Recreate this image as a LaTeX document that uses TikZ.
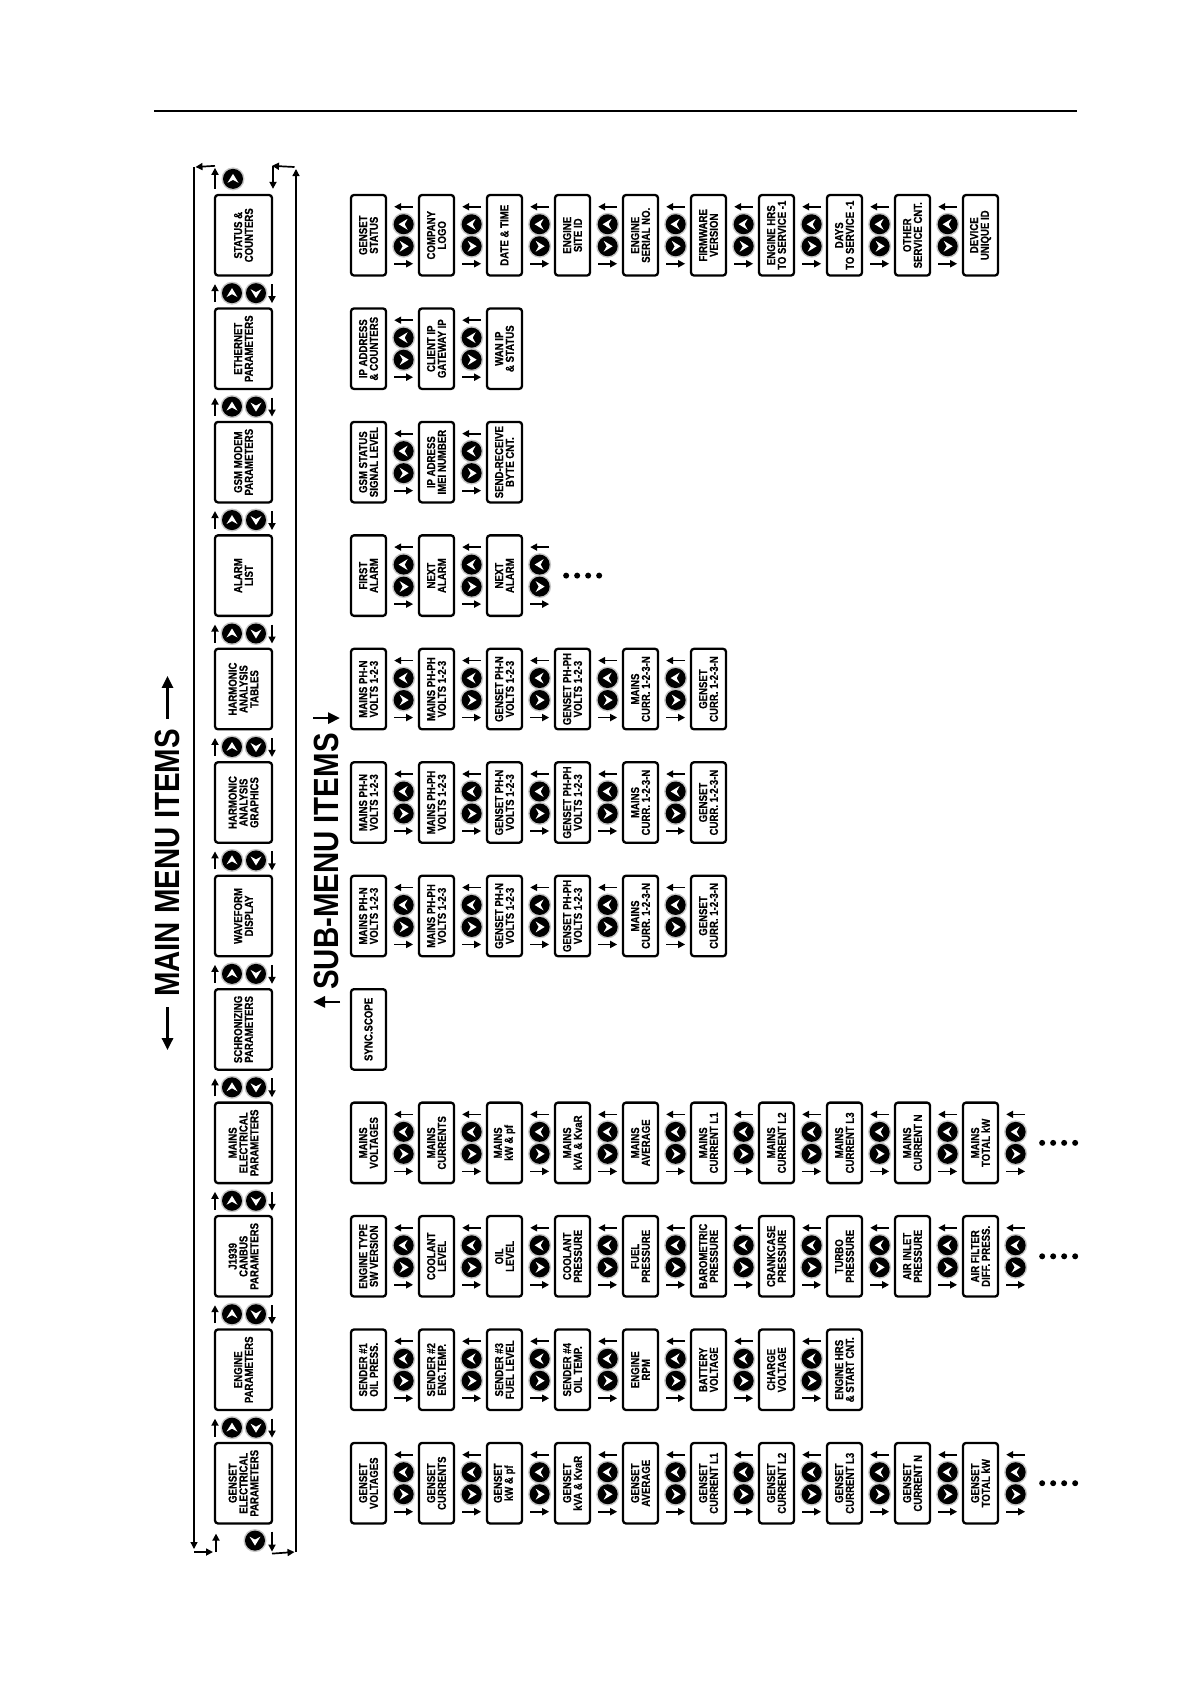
\documentclass[tikz,border=0pt]{standalone}
\usepackage{fontspec}
\setmainfont{Liberation Sans}[FakeStretch=0.83, BoldFeatures={FakeBold=0.4}]
\newfontfamily\titlefont{Liberation Sans}[FakeStretch=0.84]
\usetikzlibrary{arrows.meta,calc}
\tikzset{
  box/.style={draw, line width=2.3pt, rounded corners=3pt, rotate=90, align=center,
    inner sep=0pt, font=\fontsize{11.6}{10.8}\selectfont\bfseries},
  mbox/.style={box, minimum width=80.5pt, minimum height=57pt},
  sbox/.style={box, minimum width=80.5pt, minimum height=35pt},
  arr/.style={line width=1.7pt, -{Triangle[length=7pt,width=7pt]}},
  loopline/.style={line width=1.3pt, -{Triangle[length=7pt,width=7pt]}},
  tarr/.style={line width=2.8pt, -{Triangle[length=12pt,width=11pt]}},
  ttl/.style={rotate=90, inner sep=0pt, font=\titlefont\fontsize{35}{35}\selectfont\bfseries},
}
\newcommand\btn[2]{%
  \path (#1) coordinate (bt);
  \fill[gray!45] (bt) circle[radius=11.5];
  \fill[black] (bt) circle[radius=10];
  \fill[white, shift={(bt)}, rotate=#2] (5,0) -- (-4,5.5) -- (-1,0) -- (-4,-5.5) -- cycle;
}
\newcommand\sconn[1]{%
  \draw[arr] ($(#1.south)+(26,-28.5)$) -- ($(#1.south)+(7,-28.5)$);
  \btn{$(#1.south)+(16.5,-11)$}{180}
  \btn{$(#1.south)+(16.5,11)$}{0}
  \draw[arr] ($(#1.south)+(7,28.5)$) -- ($(#1.south)+(26,28.5)$);
}
\newcommand\mconn[1]{%
  \path ($(#1.west)+(0,16.5)$) coordinate (mc);
  \draw[arr] ($(mc)+(-28.5,9)$) -- ($(mc)+(-28.5,-9)$);
  \btn{$(mc)+(-11.5,0)$}{90}
  \btn{$(mc)+(12.5,0)$}{-90}
  \draw[arr] ($(mc)+(28.5,-9)$) -- ($(mc)+(28.5,10)$);
}
\newcommand\subrow[4]{% #1 row, #2 count, #3 trailing, #4 list
  \foreach \t [count=\j from 0] in {#4} {
    \node[sbox] (s#1n\j) at ({368.5+68*\j},{235.25+113.45*#1}) {\t};
    \ifnum\j<\numexpr#2-1\relax \sconn{s#1n\j}\fi
    \ifnum\j=\numexpr#2-1\relax
      \ifnum#3=1
        \sconn{s#1n\j}
        \foreach \d in {43,54,65,76} {\fill ($(s#1n\j.south)+(\d,0)$) circle[radius=3];}
      \fi
    \fi
  }
}
\begin{document}
\begin{tikzpicture}[x=1pt,y=-1pt]
\fill[white] (0,0) rectangle (1191,1684);
\useasboundingbox (0,0) rectangle (1191,1684);

% top rule
\draw[line width=1.3pt] (154,111) -- (1077,111);

% main menu boxes
\foreach \t [count=\k from 0] in {
  {STATUS \&\\COUNTERS},{ETHERNET\\PARAMETERS},{GSM MODEM\\PARAMETERS},{ALARM\\LIST},
  {HARMONIC\\ANALYSIS\\TABLES},{HARMONIC\\ANALYSIS\\GRAPHICS},{WAVEFORM\\DISPLAY},
  {SCHRONIZING\\PARAMETERS},{MAINS\\ELECTRICAL\\PARAMETERS},{J1939\\CANBUS\\PARAMETERS},
  {ENGINE\\PARAMETERS},{GENSET\\ELECTRICAL\\PARAMETERS}}
  {\node[mbox] (m\k) at (243.5,{235.25+113.45*\k}) {\t};}
\foreach \k in {0,...,10} {\mconn{m\k}}

% top wrap
\btn{$(m0.east)+(-10.5,-15)$}{90}
\coordinate (tl) at (194,167);
\coordinate (bl) at (194,1552);
\coordinate (tr) at (296,167);
\coordinate (br) at (296,1552);
\draw[arr] ($(m0.east)+(-28.5,-5)$) -- ($(m0.east)+(-28.5,-26)$);
\draw[arr] ($(m0.east)+(-28.5,-28)$) -- ($(tl)+(1.5,0)$);
\draw[loopline] (tl) -- ($(bl)+(0,-3)$);
\draw[arr] (bl) -- ($(bl)+(19,0)$);
\draw[arr] ($(bl)+(22,0)$) -- ($(m11.west)+(-27.5,9)$);
% bottom wrap
\btn{$(m11.west)+(11.5,16)$}{-90}
\draw[arr] ($(m11.west)+(28.5,7)$) -- ($(m11.west)+(28.5,27)$);
\draw[arr] ($(m11.west)+(28.5,29)$) -- ($(br)+(-1.5,0)$);
\draw[loopline] (br) -- ($(tr)+(0,2)$);
\draw[arr] ($(tr)+(-1.5,0)$) -- ($(m0.east)+(28.5,-28)$);
\draw[arr] ($(m0.east)+(29.5,-28)$) -- ($(m0.east)+(29.5,-5)$);

% titles
\node[ttl] (mt) at (167.5,863) {MAIN MENU ITEMS};
\draw[tarr] ($(mt.east)+(0,-10)$) -- ($(mt.east)+(0,-53)$);
\draw[tarr] ($(mt.west)+(0,10)$) -- ($(mt.west)+(0,53)$);
\node[ttl] (st) at (326.5,861.5) {SUB-MENU ITEMS};
\draw[tarr] ($(st.east)+(-13.5,-15)$) -- ($(st.east)+(13.5,-15)$);
\draw[tarr] ($(st.west)+(13.5,12)$) -- ($(st.west)+(-13.5,12)$);

% sub menus
\subrow{0}{10}{0}{{GENSET\\STATUS},{COMPANY\\LOGO},{DATE \& TIME},{ENGINE\\SITE ID},{ENGINE\\SERIAL NO.},{FIRMWARE\\VERSION},{ENGINE HRS\\TO SERVICE -1},{DAYS\\TO SERVICE -1},{OTHER\\SERVICE CNT.},{DEVICE\\UNIQUE ID}}
\subrow{1}{3}{0}{{IP ADDRESS\\\& COUNTERS},{CLIENT IP\\GATEWAY IP},{WAN IP\\\& STATUS}}
\subrow{2}{3}{0}{{GSM STATUS\\SIGNAL LEVEL},{IP ADRESS\\IMEI NUMBER},{SEND-RECEIVE\\BYTE CNT.}}
\subrow{3}{3}{1}{{FIRST\\ALARM},{NEXT\\ALARM},{NEXT\\ALARM}}
\subrow{4}{6}{0}{{MAINS PH-N\\VOLTS 1-2-3},{MAINS PH-PH\\VOLTS 1-2-3},{GENSET PH-N\\VOLTS 1-2-3},{GENSET PH-PH\\VOLTS 1-2-3},{MAINS\\CURR. 1-2-3-N},{GENSET\\CURR. 1-2-3-N}}
\subrow{5}{6}{0}{{MAINS PH-N\\VOLTS 1-2-3},{MAINS PH-PH\\VOLTS 1-2-3},{GENSET PH-N\\VOLTS 1-2-3},{GENSET PH-PH\\VOLTS 1-2-3},{MAINS\\CURR. 1-2-3-N},{GENSET\\CURR. 1-2-3-N}}
\subrow{6}{6}{0}{{MAINS PH-N\\VOLTS 1-2-3},{MAINS PH-PH\\VOLTS 1-2-3},{GENSET PH-N\\VOLTS 1-2-3},{GENSET PH-PH\\VOLTS 1-2-3},{MAINS\\CURR. 1-2-3-N},{GENSET\\CURR. 1-2-3-N}}
\subrow{7}{1}{0}{{SYNC.SCOPE}}
\subrow{8}{10}{1}{{MAINS\\VOLTAGES},{MAINS\\CURRENTS},{MAINS\\kW \& pf},{MAINS\\kVA \& KvaR},{MAINS\\AVERAGE},{MAINS\\CURRENT L1},{MAINS\\CURRENT L2},{MAINS\\CURRENT L3},{MAINS\\CURRENT N},{MAINS\\TOTAL kW}}
\subrow{9}{10}{1}{{ENGINE TYPE\\SW VERSION},{COOLANT\\LEVEL},{OIL\\LEVEL},{COOLANT\\PRESSURE},{FUEL\\PRESSURE},{BAROMETRIC\\PRESSURE},{CRANKCASE\\PRESSURE},{TURBO\\PRESSURE},{AIR INLET\\PRESSURE},{AIR FILTER\\DIFF. PRESS.}}
\subrow{10}{8}{0}{{SENDER \#1\\OIL PRESS.},{SENDER \#2\\ENG.TEMP.},{SENDER \#3\\FUEL LEVEL},{SENDER \#4\\OIL TEMP.},{ENGINE\\RPM},{BATTERY\\VOLTAGE},{CHARGE\\VOLTAGE},{ENGINE HRS\\\& START CNT.}}
\subrow{11}{10}{1}{{GENSET\\VOLTAGES},{GENSET\\CURRENTS},{GENSET\\kW \& pf},{GENSET\\kVA \& KvaR},{GENSET\\AVERAGE},{GENSET\\CURRENT L1},{GENSET\\CURRENT L2},{GENSET\\CURRENT L3},{GENSET\\CURRENT N},{GENSET\\TOTAL kW}}
\end{tikzpicture}
\end{document}
